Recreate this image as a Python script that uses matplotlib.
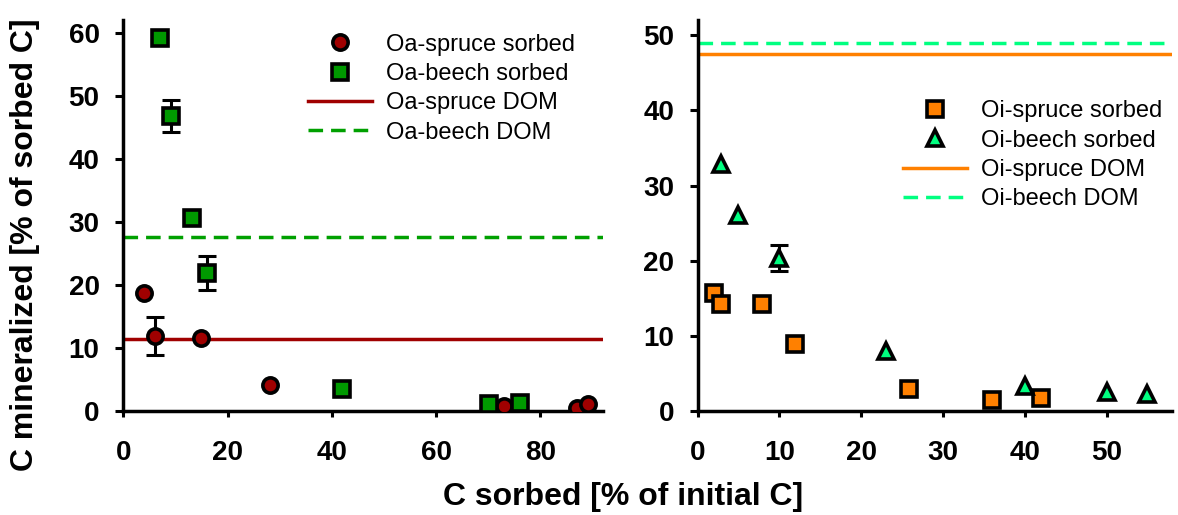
import matplotlib
matplotlib.use("Agg")
import matplotlib.pyplot as plt

plt.rcParams["font.family"] = ["Liberation Sans", "DejaVu Sans"]

# Oa horizon (left panel)
oa_spruce_x = [4.0, 6.1, 15.0, 28.1, 73.1, 87.0, 89.2]
oa_spruce_y = [18.7, 11.9, 11.6, 4.1, 0.8, 0.5, 1.1]
oa_spruce_err = [0, 3.0, 0, 0, 0, 0, 0]
oa_beech_x = [7.0, 9.2, 13.2, 16.0, 42.0, 70.2, 76.0]
oa_beech_y = [59.2, 46.8, 30.7, 21.9, 3.5, 1.2, 1.3]
oa_beech_err = [0, 2.6, 0, 2.7, 0, 0, 0]
oa_spruce_dom = 11.5
oa_beech_dom = 27.6

# Oi horizon (right panel)
oi_spruce_x = [2.0, 2.9, 7.9, 11.9, 25.9, 36.0, 42.0]
oi_spruce_y = [15.7, 14.3, 14.3, 8.9, 2.9, 1.5, 1.7]
oi_beech_x = [2.9, 4.9, 10.0, 23.0, 40.0, 50.0, 55.0]
oi_beech_y = [32.8, 26.1, 20.4, 8.0, 3.3, 2.6, 2.3]
oi_beech_err = [0, 0, 1.7, 0, 0, 0, 0]
oi_spruce_dom = 47.5
oi_beech_dom = 49.0

DARK_RED = "#a00000"
GREEN = "#009900"
ORANGE = "#ff8000"
MINT = "#00ff80"

fig = plt.figure(figsize=(11.78, 5.15), dpi=100)
ax1 = fig.add_axes([0.1046, 0.2014, 0.4073, 0.7597])
ax2 = fig.add_axes([0.5922, 0.2014, 0.4027, 0.7597])

mk = dict(markersize=11, markeredgewidth=2.6, markeredgecolor="black",
          linestyle="none", zorder=4)
eb = dict(fmt="none", ecolor="black", elinewidth=2.2, capsize=6.5,
          capthick=2.2, zorder=3)
dash = (0, (4.2, 2.3))


def errs(e):
    return [v if v > 0 else float("nan") for v in e]


# left panel
ax1.errorbar(oa_spruce_x, oa_spruce_y, yerr=errs(oa_spruce_err), **eb)
ax1.errorbar(oa_beech_x, oa_beech_y, yerr=errs(oa_beech_err), **eb)
ax1.plot(oa_spruce_x, oa_spruce_y, marker="o", color=DARK_RED,
         label="Oa-spruce sorbed", **mk)
ax1.plot(oa_beech_x, oa_beech_y, marker="s", color=GREEN,
         label="Oa-beech sorbed", **mk)
ax1.axhline(oa_spruce_dom, color=DARK_RED, lw=2.5, zorder=2,
            label="Oa-spruce DOM")
ax1.axhline(oa_beech_dom, color="#00a000", lw=2.5, ls=dash, zorder=2,
            label="Oa-beech DOM")
ax1.set_xlim(0, 92)
ax1.set_ylim(0, 62)
ax1.set_xticks([0, 20, 40, 60, 80])
ax1.set_yticks([0, 10, 20, 30, 40, 50, 60])

# right panel
ax2.errorbar(oi_beech_x, oi_beech_y, yerr=errs(oi_beech_err), **eb)
ax2.plot(oi_spruce_x, oi_spruce_y, marker="s", color=ORANGE,
         label="Oi-spruce sorbed", **mk)
tri = dict(mk)
tri["markersize"] = 12
ax2.plot(oi_beech_x, oi_beech_y, marker="^", color=MINT,
         label="Oi-beech sorbed", **tri)
ax2.axhline(oi_spruce_dom, color=ORANGE, lw=2.5, zorder=2,
            label="Oi-spruce DOM")
ax2.axhline(oi_beech_dom, color=MINT, lw=2.5, ls=dash, zorder=2,
            label="Oi-beech DOM")
ax2.set_xlim(0, 58)
ax2.set_ylim(0, 52)
ax2.set_xticks([0, 10, 20, 30, 40, 50])
ax2.set_yticks([0, 10, 20, 30, 40, 50])

for ax in (ax1, ax2):
    for side in ("top", "right"):
        ax.spines[side].set_visible(False)
    for side in ("left", "bottom"):
        ax.spines[side].set_linewidth(2.5)
    ax.tick_params(axis="y", direction="out", length=6, width=2.2,
                   labelsize=20, pad=11)
    ax.tick_params(axis="x", direction="out", length=4, width=2.2,
                   labelsize=20, pad=17)
    for lab in ax.get_xticklabels() + ax.get_yticklabels():
        lab.set_fontweight("bold")

leg_kw = dict(loc="upper left", frameon=False, fontsize=17, borderpad=0,
              handlelength=2.7, handletextpad=0.6, labelspacing=0.31,
              borderaxespad=0)
ax1.legend(bbox_to_anchor=(0.385, 0.965), **leg_kw)
ax2.legend(bbox_to_anchor=(0.433, 0.795), **leg_kw)

fig.text(0.021, 0.525, "C mineralized [% of sorbed C]", rotation=90,
         ha="center", va="center", fontsize=23, fontweight="bold")
fig.text(0.529, 0.034, "C sorbed [% of initial C]", ha="center",
         va="center", fontsize=23, fontweight="bold")

fig.savefig("out.png", dpi=100)
